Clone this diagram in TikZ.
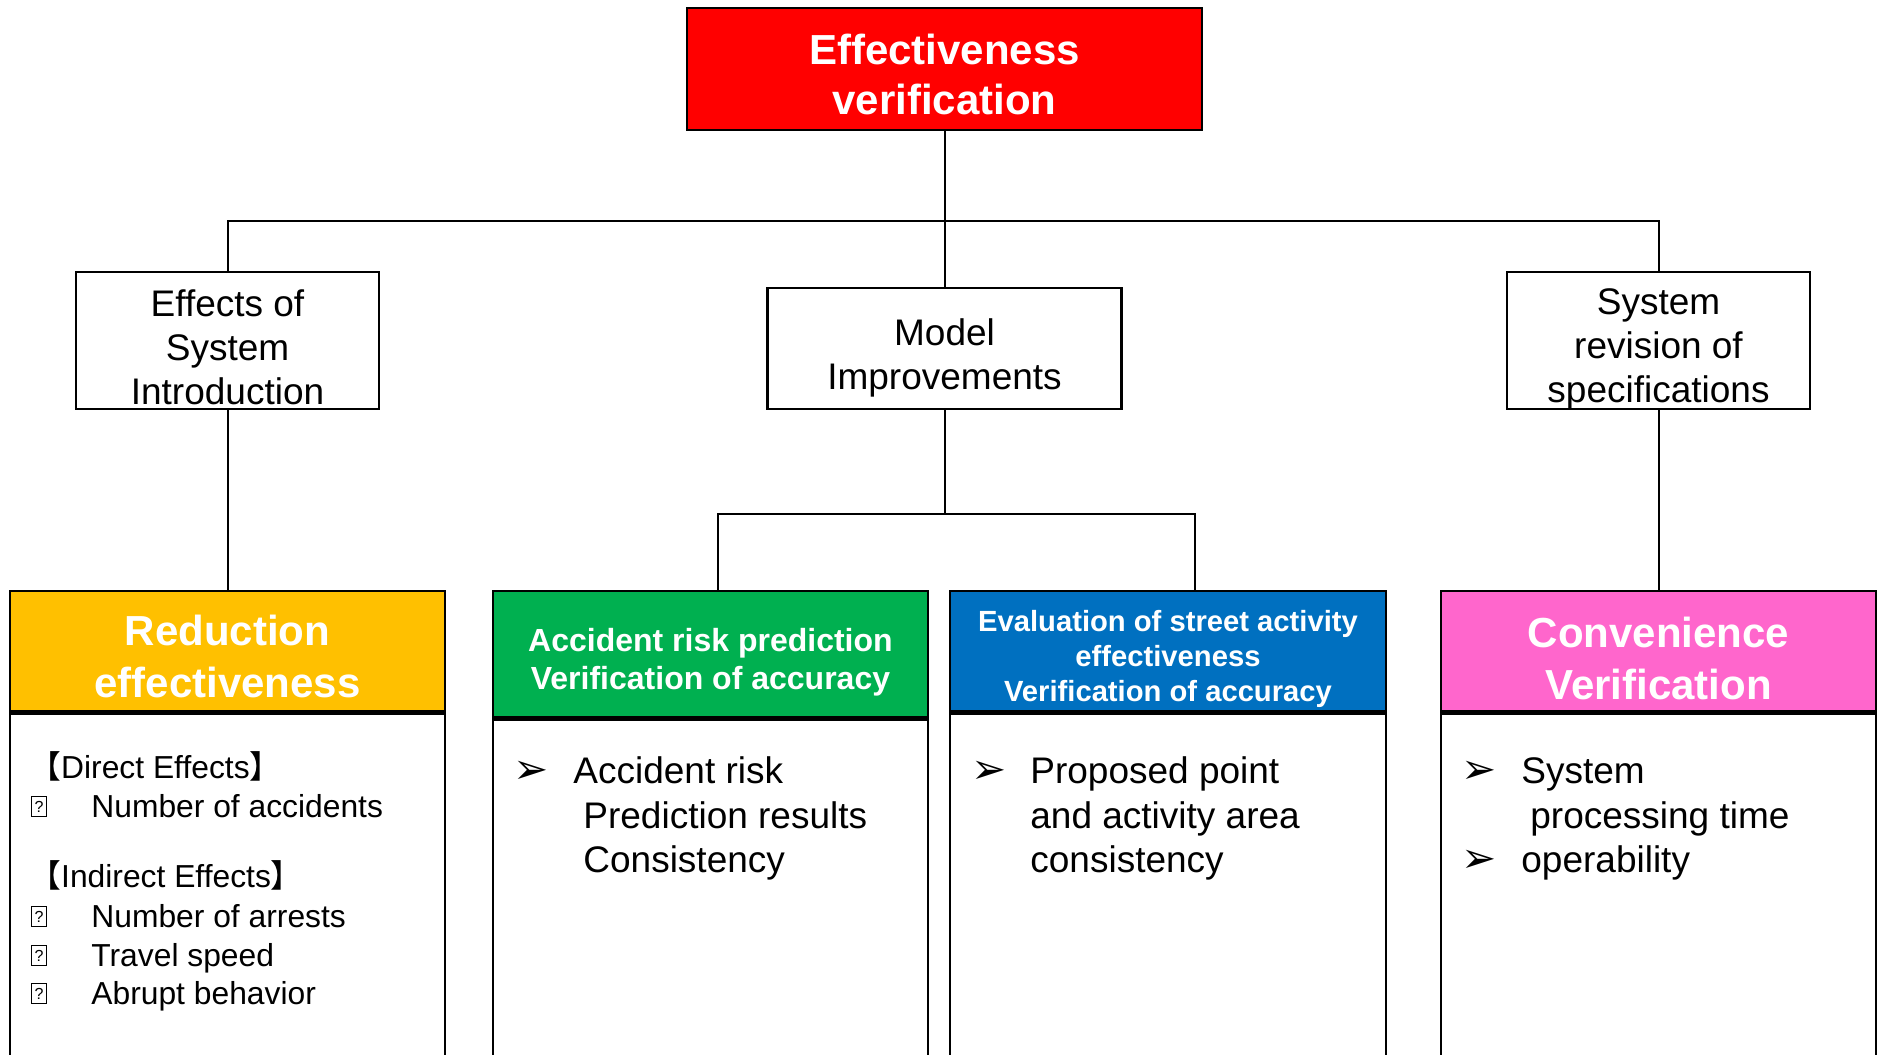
\documentclass[tikz,border=0pt]{standalone}
\usepackage{fontspec}
\setmainfont{Liberation Sans}
\newfontfamily\cjkfont{Noto Sans CJK JP}
\newfontfamily\symfont{DejaVu Sans}
\usetikzlibrary{positioning}
\definecolor{topred}{HTML}{FF0000}
\definecolor{reduceyellow}{HTML}{FFC000}
\definecolor{riskgreen}{HTML}{00B050}
\definecolor{streetblue}{HTML}{0070C0}
\definecolor{convpink}{HTML}{FF66CC}
\newcommand{\fsz}[2]{\fontsize{#1}{#2}\selectfont}
\newcommand{\arrowmark}{{\symfont ➢}}

\begin{document}
\begin{tikzpicture}[x=0.5pt,y=-0.5pt,
    box/.style={draw, line width=1.2pt, inner sep=0pt},
    level/.style={box, fill=white},
    head/.style={box, anchor=north},
    body/.style={box, fill=white, anchor=north},
    leveltext/.style={align=center, inner sep=0pt, font=\fsz{18.5}{22}},
    headtext/.style={align=center, inner sep=0pt, text=white, font=\bfseries\fsz{21}{26}},
    item/.style={anchor=base west, inner sep=0pt, font=\fsz{18.5}{22}},
    small/.style={anchor=base west, inner sep=0pt, font=\fsz{15.9}{19.5}},
    qmark/.style={draw, line width=0.5pt, inner sep=0pt, anchor=south west,
        minimum width=7.5pt, minimum height=10pt, font=\fsz{8}{8}},
    pointer/.style={anchor=base west, inner sep=0pt, font=\fsz{21}{21}},
    link/.style={line width=1pt}]
    \useasboundingbox (0,0) rectangle (1881,1055);

    % top and second level
    \node[head, fill=topred, minimum width=257.5pt, minimum height=61pt] (top) at (944.5,7) {};
    \node[headtext, font=\bfseries\fsz{21}{25}, yshift=-2.5pt] (toptext) at (top) {Effectiveness\\verification};
    \node[level, minimum width=151.5pt, minimum height=68.5pt] (effect) at (227.5,340.5) {};
    \node[leveltext, yshift=-3.5pt] (effecttext) at (effect) {Effects of\\System\\Introduction};
    \node[level, minimum width=177pt, minimum height=60.5pt] (model) at (944.5,348.5) {};
    \node[leveltext, yshift=-4.5pt] (modeltext) at (model) {Model\\Improvements};
    \node[level, minimum width=151.5pt, minimum height=68.5pt] (spec) at (1658.5,340.5) {};
    \node[leveltext, yshift=-4.5pt] (spectext) at (spec) {System\\revision of\\specifications};

    % bottom boxes
    \node[head, fill=reduceyellow, minimum width=217.5pt, minimum height=60pt] (reduce) at (227.5,590) {};
    \node[headtext, yshift=-2.5pt] (reducetext) at (reduce) {Reduction\\effectiveness};
    \node[body, minimum width=217.5pt, minimum height=171.5pt] (reducebd) at (reduce.south) {};
    \node[head, fill=riskgreen, minimum width=217.5pt, minimum height=63pt] (risk) at (710.5,590) {};
    \node[headtext, font=\bfseries\fsz{16}{18.75}, yshift=-4pt] (risktext) at (risk) {Accident risk prediction\\Verification of accuracy};
    \node[body, minimum width=217.5pt, minimum height=168.5pt] (riskbd) at (risk.south) {};
    \node[head, fill=streetblue, minimum width=218pt, minimum height=60pt] (street) at (1168,590) {};
    \node[headtext, font=\bfseries\fsz{14.6}{17.4}, yshift=-4pt] (streettext) at (street) {Evaluation of street activity\\effectiveness\\Verification of accuracy};
    \node[body, minimum width=218pt, minimum height=171.5pt] (streetbd) at (street.south) {};
    \node[head, fill=convpink, minimum width=217.5pt, minimum height=60pt] (conv) at (1658.5,590) {};
    \node[headtext, yshift=-3.5pt] (convtext) at (conv) {Convenience\\Verification};
    \node[body, minimum width=217.5pt, minimum height=171.5pt] (convbd) at (conv.south) {};

    % connectors
    \coordinate (hub) at (944.5,221);
    \coordinate (mhub) at (944.5,514);
    \coordinate (risktop) at (718,590);
    \coordinate (streettop) at (1195,590);
    \draw[link] (top.south) -- (hub);
    \draw[link] (effect.north) |- (hub) -| (spec.north);
    \draw[link] (hub) -- (model.north);
    \draw[link] (model.south) -- (mhub);
    \draw[link] (risktop) |- (mhub) -| (streettop);
    \draw[link] (effect.south) -- (reduce.north);
    \draw[link] (spec.south) -- (conv.north);

    % reduction items
    \node[small] (direct) at (29,778) {{\cjkfont 【}Direct Effects{\cjkfont 】}};
    \node[small] (indirect) at (29,887) {{\cjkfont 【}Indirect Effects{\cjkfont 】}};
    \foreach \n/\y/\t in {1/817/Number of accidents, 2/927/Number of arrests,
                          3/966/Travel speed, 4/1004/Abrupt behavior}{
        \node[qmark] (q\n) at (31,\y) {?};
        \node[small] (t\n) at (91,\y) {\t};
    }

    % accuracy items
    \node[pointer] (rp) at (513,783) {\arrowmark};
    \node[item] (r1) at (573,783) {Accident risk};
    \node[item] (r2) at (583,828) {Prediction results};
    \node[item] (r3) at (583,872) {Consistency};
    \node[pointer] (sp) at (971,783) {\arrowmark};
    \node[item] (s1) at (1030,783) {Proposed point};
    \node[item] (s2) at (1030,828) {and activity area};
    \node[item] (s3) at (1030,872) {consistency};

    % convenience items
    \node[pointer] (cp1) at (1461,783) {\arrowmark};
    \node[item] (c1) at (1521,783) {System};
    \node[item] (c2) at (1530,828) {processing time};
    \node[pointer] (cp2) at (1461,872) {\arrowmark};
    \node[item] (c3) at (1521,872) {operability};
\end{tikzpicture}
\end{document}
